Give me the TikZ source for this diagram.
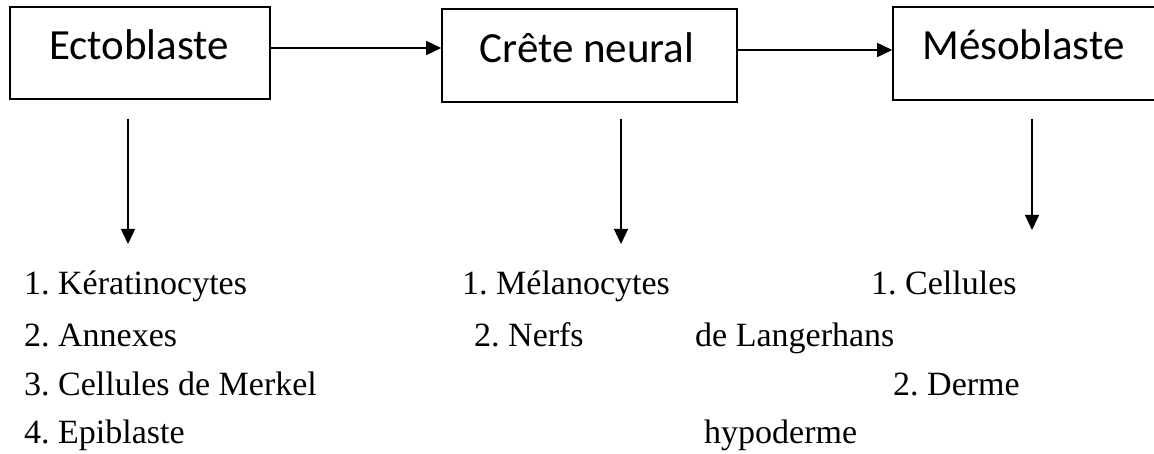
\documentclass[tikz,border=0pt]{standalone}
\usepackage{fontspec}
\setmainfont{Liberation Serif}
\newfontfamily\boxfont{Carlito}
\usetikzlibrary{arrows.meta}
\frenchspacing
\begin{document}
\begin{tikzpicture}[x=1pt,y=-1pt,
  box/.style={draw=black,line width=1.6pt,rectangle,inner sep=0pt},
  boxtext/.style={font=\boxfont\fontsize{43}{50}\selectfont,anchor=base,inner sep=0pt},
  item/.style={font=\fontsize{34}{40}\selectfont,anchor=base west,inner sep=0pt},
  conn/.style={line width=1.6pt,-{Triangle[length=15pt,width=14pt]}},
  vconn/.style={line width=1.3pt,-{Triangle[length=15pt,width=14pt]}}]
\useasboundingbox (0,0) rectangle (1154,454);
\begin{scope}
\clip (0,0) rectangle (1154,454);
\node[box,minimum width=260pt,minimum height=92pt] (b1) at (140,53) {};
\node[box,minimum width=295pt,minimum height=93pt] (b2) at (589.5,55.5) {};
\node[box,minimum width=264pt,minimum height=93pt] (b3) at (1025,53.5) {};
\end{scope}
\node[boxtext] (t1) at (139,60) {Ectoblaste};
\node[boxtext] (t2) at (587,63) {Crête neural};
\node[boxtext] (t3) at (1023.5,60) {Mésoblaste};
\coordinate (ya) at (0,48);
\coordinate (yb) at (0,50);
\draw[conn] (b1.east|-ya) -- (b2.west|-ya);
\draw[conn] (b2.east|-yb) -- (b3.west|-yb);
\coordinate (v1s) at (128,119);
\coordinate (v1e) at (128,244);
\coordinate (v2s) at (621,119);
\coordinate (v2e) at (621,244);
\coordinate (v3s) at (1032,119);
\coordinate (v3e) at (1032,230);
\draw[vconn] (v1s) -- (v1e);
\draw[vconn] (v2s) -- (v2e);
\draw[vconn] (v3s) -- (v3e);
\node[item] (a1) at (24,295) {1. Kératinocytes};
\node[item] (a2) at (24,347) {2. Annexes};
\node[item] (a3) at (24,395) {3. Cellules de Merkel};
\node[item] (a4) at (24,443) {4. Epiblaste};
\node[item] (c1) at (462,295) {1. Mélanocytes};
\node[item] (c2) at (474,347) {2. Nerfs};
\node[item] (c3) at (695,347) {de Langerhans};
\node[item] (m1) at (871,295) {1. Cellules};
\node[item] (m2) at (893,395) {2. Derme};
\node[item] (m3) at (704,443) {hypoderme};
\end{tikzpicture}
\end{document}
